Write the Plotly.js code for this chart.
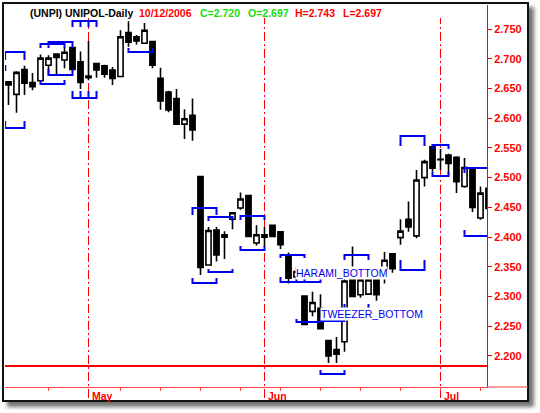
<!DOCTYPE html>
<html><head><meta charset="utf-8">
<script src="https://cdn.plot.ly/plotly-3.0.1.min.js"></script>
<style>
html,body{margin:0;padding:0;background:#fff;width:540px;height:413px;overflow:hidden;}
#frame{position:absolute;left:2px;top:2px;width:523px;height:396px;border:2px solid #111;background:#fff;box-shadow:5px 5px 4px rgba(0,0,0,0.55);}
#chart{position:absolute;left:0;top:0;width:540px;height:413px;}
</style></head><body>
<div id="frame"></div><div id="chart"></div>
<script>
// ---- data ----
const dates = ['2006-04-13','2006-04-18','2006-04-19','2006-04-20','2006-04-21','2006-04-24','2006-04-25','2006-04-26','2006-04-27','2006-04-28',
 '2006-05-02','2006-05-03','2006-05-04','2006-05-05','2006-05-08','2006-05-09','2006-05-10','2006-05-11','2006-05-12',
 '2006-05-15','2006-05-16','2006-05-17','2006-05-18','2006-05-19','2006-05-22','2006-05-23','2006-05-24','2006-05-25','2006-05-26',
 '2006-05-29','2006-05-30','2006-05-31','2006-06-01','2006-06-02','2006-06-05','2006-06-06','2006-06-07','2006-06-08','2006-06-09',
 '2006-06-12','2006-06-13','2006-06-14','2006-06-15','2006-06-16','2006-06-19','2006-06-20','2006-06-21','2006-06-22','2006-06-23',
 '2006-06-26','2006-06-27','2006-06-28','2006-06-29','2006-06-30','2006-07-03','2006-07-04','2006-07-05','2006-07-06','2006-07-07',
 '2006-07-10','2006-07-11'];
const open = [2.661,2.640,2.682,2.660,2.663,2.689,2.708,2.698,2.719,2.695,
 2.671,2.692,2.688,2.681,2.670,2.744,2.737,2.726,2.729,2.667,
 2.644,2.633,2.590,2.605,2.502,2.353,2.412,2.404,2.430,2.449,
 2.470,2.390,2.404,2.420,2.409,2.370,2.333,2.301,2.275,2.280,
 2.226,2.211,2.224,2.328,2.303,2.304,2.328,2.347,2.372,2.399,
 2.430,2.402,2.500,2.552,2.531,2.538,2.534,2.485,2.516,2.432,2.482];
const high = [2.662,2.679,2.688,2.676,2.707,2.706,2.709,2.718,2.720,2.712,
 2.730,2.693,2.690,2.686,2.748,2.763,2.740,2.760,2.730,2.685,
 2.646,2.649,2.615,2.633,2.503,2.417,2.417,2.410,2.442,2.475,
 2.471,2.420,2.417,2.421,2.410,2.374,2.350,2.302,2.308,2.304,
 2.227,2.232,2.333,2.384,2.330,2.330,2.330,2.375,2.373,2.430,
 2.460,2.513,2.530,2.555,2.548,2.540,2.536,2.533,2.518,2.485,2.490];
const low = [2.622,2.609,2.639,2.647,2.662,2.673,2.673,2.684,2.682,2.649,
 2.664,2.668,2.668,2.656,2.669,2.720,2.724,2.725,2.684,2.614,
 2.610,2.589,2.565,2.562,2.336,2.352,2.359,2.363,2.413,2.446,
 2.400,2.386,2.384,2.400,2.380,2.322,2.333,2.252,2.267,2.245,
 2.188,2.188,2.207,2.299,2.298,2.303,2.293,2.322,2.340,2.387,
 2.409,2.398,2.485,2.510,2.513,2.507,2.474,2.483,2.442,2.429,2.445];
const close = [2.656,2.677,2.659,2.653,2.701,2.701,2.702,2.711,2.682,2.660,
 2.668,2.681,2.674,2.667,2.737,2.728,2.730,2.748,2.689,2.629,
 2.614,2.590,2.599,2.580,2.349,2.411,2.370,2.400,2.441,2.464,
 2.401,2.404,2.400,2.401,2.387,2.331,2.342,2.253,2.290,2.246,
 2.200,2.203,2.326,2.300,2.328,2.328,2.303,2.361,2.347,2.410,
 2.417,2.496,2.527,2.516,2.530,2.524,2.493,2.517,2.450,2.474,2.448];
const priceTicks = [2.200,2.250,2.300,2.350,2.400,2.450,2.500,2.550,2.600,2.650,2.700,2.750];
const monthAbbr = ['Jan','Feb','Mar','Apr','May','Jun','Jul','Aug','Sep','Oct','Nov','Dec'];
const supportLevel = 2.183;
const headerTexts = ['(UNPI) UNIPOL-Daily','10/12/2006','C=2.720','O=2.697','H=2.743','L=2.697'];
const patternNames = ['HARAMI_BOTTOM','TWEEZER_BOTTOM'];
const patternDay = [35.81, 38.94];
const patternPrice = [2.3396, 2.2706];
// pattern brackets: start day, end day, bracket level, tip level
const bracketFrom  = [-0.42,-3,-0.42,4,5,4,5,8,9,8,9,15,23,25,23,25,29,29,34,34,36,36,39,42,42,39,49,49,53,53,57,57];
const bracketTo    = [2,-0.4,2,7,8,7,8,10,11,10,11,18,26,28,26,28,32,32,37,37,39,39,42,45,45,42,52,52,55,55,61,61];
const bracketLevel = [2.7113,2.6878,2.5835,2.7248,2.7282,2.6575,2.6727,2.7635,2.7635,2.6340,2.6340,2.7113,
 2.4489,2.4338,2.3228,2.3413,2.4355,2.3783,2.3699,2.3245,2.3245,2.2572,2.2589,2.3699,2.2774,2.1697,
 2.3447,2.5701,2.5549,2.5028,2.5162,2.4018];
const bracketTip   = [2.6979,2.6794,2.5953,2.7181,2.7181,2.6642,2.6827,2.7534,2.7534,2.6457,2.6457,2.7181,
 2.4372,2.4271,2.3312,2.3463,2.4288,2.3850,2.3648,2.3329,2.3329,2.2622,2.2656,2.3615,2.2875,2.1764,
 2.3615,2.5532,2.5482,2.5095,2.5078,2.4119];

// ---- derived ----
const day = dates.map((d,i)=>i);
const dObj = dates.map(d=>new Date(d+'T00:00:00Z'));
const weekTicks = day.filter(i=>dObj[i].getUTCDay()===1);
const monthStarts = day.filter(i=>i>0 && dObj[i].getUTCMonth()!==dObj[i-1].getUTCMonth());

const W=540,H=413, L=5, R=487, T=5, B=387;
const px2paperX = px => (px-L)/(R-L);
const px2paperY = py => (B-py)/(B-T);

const bx=[], by=[];
for(let k=0;k<bracketFrom.length;k++){
  bx.push(bracketFrom[k],bracketFrom[k],bracketTo[k],bracketTo[k],null);
  by.push(bracketTip[k],bracketLevel[k],bracketLevel[k],bracketTip[k],null);
}

const traces = [
 {type:'candlestick', x:day, open:open, high:high, low:low, close:close,
  increasing:{line:{color:'#000',width:1.6}, fillcolor:'#ffffff'},
  decreasing:{line:{color:'#000',width:1.6}, fillcolor:'#000000'},
  whiskerwidth:0, hoverinfo:'skip', showlegend:false},
 {type:'scatter', mode:'lines', x:bx, y:by, line:{color:'#0000ee',width:2}, hoverinfo:'skip', showlegend:false, connectgaps:false}
];

const red='#ff0000';
const shapes = [];
monthStarts.forEach(i=>{
  shapes.push({type:'line', xref:'x', yref:'paper', x0:i, x1:i, y0:px2paperY(398), y1:px2paperY(18),
    line:{color:red,width:1,dash:'9px,3px,2px,3px'}, layer:'below'});
});
shapes.push({type:'line', xref:'paper', yref:'y', x0:0, x1:1, y0:supportLevel, y1:supportLevel, line:{color:red,width:2}});
shapes.push({type:'line', xref:'paper', yref:'paper', x0:1, x1:px2paperX(528), y0:0, y1:0, line:{color:'#ff4040',width:1}});

const fam = 'Liberation Sans, Arial, sans-serif';
const annotations = [];
const headerX = [28.3,137.3,198.3,245.5,293.3,340.7];
const headerColor = ['#000000',red,'#11dd11','#11dd11',red,red];
headerTexts.forEach((t,k)=>{
  annotations.push({xref:'paper', yref:'paper', x:px2paperX(headerX[k]), y:px2paperY(13.5), xanchor:'left', yanchor:'middle',
   text:t, showarrow:false, font:{family:fam,size:10.5,color:headerColor[k],weight:'bold'}});
});
monthStarts.forEach(i=>{
  annotations.push({xref:'x', yref:'paper', x:i, xshift:1, y:px2paperY(396), xanchor:'left', yanchor:'middle',
   text:monthAbbr[dObj[i].getUTCMonth()], showarrow:false, font:{family:fam,size:10.5,color:red,weight:'bold'}});
});
patternNames.forEach((t,k)=>{
  annotations.push({xref:'x', yref:'y', x:patternDay[k], y:patternPrice[k], xanchor:'left', yanchor:'middle',
   text:t, showarrow:false, bgcolor:'#ffffff', borderpad:0, font:{family:fam,size:10.5,color:'#0000ee'}});
});

const layout = {
  width:W, height:H, margin:{l:L, r:W-R, t:T, b:H-B, pad:0},
  paper_bgcolor:'rgba(0,0,0,0)', plot_bgcolor:'rgba(0,0,0,0)',
  showlegend:false, boxgap:0.35, boxgroupgap:0,
  xaxis:{type:'linear', range:[-0.4375,59.8125], showgrid:false, zeroline:false, showline:true, linecolor:'#ff4040', linewidth:1,
    ticks:'outside', tickmode:'array', tickvals:weekTicks, ticklen:3, tickcolor:'#ff4040', tickwidth:1, showticklabels:false,
    rangeslider:{visible:false}, fixedrange:true},
  yaxis:{side:'right', range:[2.1478,2.7904], tickmode:'array', tickvals:priceTicks, ticktext:priceTicks.map(v=>v.toFixed(3)),
    ticks:'outside', ticklen:4, tickcolor:red, tickwidth:1, showline:true, linecolor:red, linewidth:1, showgrid:false, zeroline:false,
    tickfont:{family:fam,size:11,color:red,weight:'bold'}, fixedrange:true},
  shapes:shapes, annotations:annotations
};
Plotly.newPlot('chart', traces, layout, {staticPlot:true, displayModeBar:false});
</script>
</body></html>
